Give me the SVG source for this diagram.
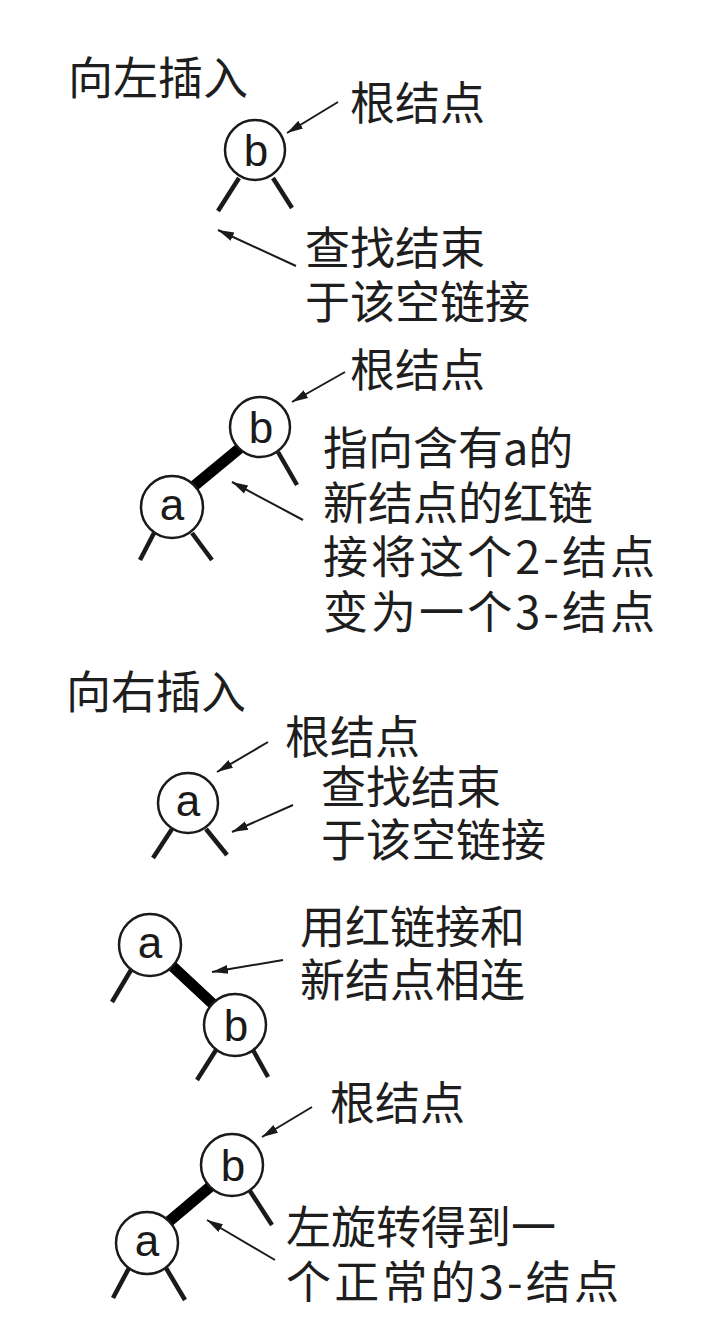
<svg xmlns="http://www.w3.org/2000/svg" width="710" height="1334" viewBox="0 0 710 1334">
<style>
.t{font-family:"Noto Sans CJK SC","Liberation Sans",sans-serif;font-size:45px;fill:#1e1e1e}
.k{font-family:"Liberation Sans","DejaVu Sans",sans-serif;font-size:44px;fill:#1a1a1a;text-anchor:middle}
.n{fill:#fff;stroke:#1a1a1a;stroke-width:2.5}
.leg{stroke:#1a1a1a;stroke-width:4.5;stroke-linecap:butt;fill:none}
.red{stroke:#000;stroke-width:11;stroke-linecap:butt;fill:none}
.ar{stroke:#1a1a1a;stroke-width:2;fill:none;marker-end:url(#ah)}
</style>
<defs>
<marker id="ah" markerWidth="17" markerHeight="12" refX="16" refY="6" orient="auto" markerUnits="userSpaceOnUse">
<path d="M0,1.5 L16,6 L0,10.5 z" fill="#1a1a1a"/>
</marker>
</defs>
<rect width="710" height="1334" fill="#fff"/>

<g id="connectors">
<line class="leg" x1="239" y1="178" x2="218" y2="211"/>
<line class="leg" x1="273" y1="178" x2="292" y2="208"/>
<line class="ar" x1="338" y1="102" x2="287" y2="133"/>
<line class="ar" x1="296" y1="266" x2="218" y2="230"/>
<line class="red" x1="240" y1="448" x2="194" y2="486"/>
<line class="leg" x1="278" y1="452" x2="297" y2="485"/>
<line class="leg" x1="154" y1="533" x2="140" y2="560"/>
<line class="leg" x1="192" y1="533" x2="212" y2="560"/>
<line class="ar" x1="345" y1="372" x2="292" y2="402"/>
<line class="ar" x1="303" y1="520" x2="232" y2="482"/>
<line class="leg" x1="172" y1="829" x2="153" y2="858"/>
<line class="leg" x1="206" y1="829" x2="227" y2="855"/>
<line class="ar" x1="268" y1="742" x2="217" y2="772"/>
<line class="ar" x1="293" y1="805" x2="232" y2="832"/>
<line class="red" x1="170" y1="964" x2="215" y2="1006"/>
<line class="leg" x1="131" y1="970" x2="112" y2="1002"/>
<line class="leg" x1="216" y1="1050" x2="197" y2="1080"/>
<line class="leg" x1="253" y1="1050" x2="268" y2="1077"/>
<line class="ar" x1="283" y1="960" x2="212" y2="972"/>
<line class="red" x1="211" y1="1186" x2="166" y2="1224"/>
<line class="leg" x1="250" y1="1191" x2="272" y2="1225"/>
<line class="leg" x1="129" y1="1268" x2="113" y2="1298"/>
<line class="leg" x1="166" y1="1268" x2="185" y2="1300"/>
<line class="ar" x1="312" y1="1107" x2="262" y2="1137"/>
<line class="ar" x1="275" y1="1260" x2="207" y2="1220"/>
</g>

<g id="node-b1"><circle class="n" cx="255" cy="150" r="30"/><text class="k" x="256" y="166">b</text></g>
<g id="node-b2"><circle class="n" cx="260" cy="427" r="30"/><text class="k" x="261" y="443">b</text></g>
<g id="node-a2"><circle class="n" cx="172" cy="507" r="31"/><text class="k" x="172" y="520">a</text></g>
<g id="node-a3"><circle class="n" cx="188" cy="803" r="30"/><text class="k" x="188" y="816">a</text></g>
<g id="node-a4"><circle class="n" cx="150" cy="945" r="31"/><text class="k" x="150" y="958">a</text></g>
<g id="node-b4"><circle class="n" cx="235" cy="1025" r="31"/><text class="k" x="236" y="1041">b</text></g>
<g id="node-b5"><circle class="n" cx="232" cy="1165" r="31"/><text class="k" x="233" y="1181">b</text></g>
<g id="node-a5"><circle class="n" cx="147" cy="1243" r="31"/><text class="k" x="147" y="1256">a</text></g>

<g id="labels">
<text class="t" x="68" y="95">向左插入</text>
<text class="t" x="350" y="120">根结点</text>
<text class="t" x="305" y="265">查找结束</text>
<text class="t" x="305" y="319">于该空链接</text>

<text class="t" x="350" y="387">根结点</text>
<text class="t" x="323" y="465">指向含有a的</text>
<text class="t" x="323" y="520">新结点的红链</text>
<text class="t" x="323" y="574" textLength="332" lengthAdjust="spacing">接将这个2-结点</text>
<text class="t" x="323" y="629" textLength="332" lengthAdjust="spacing">变为一个3-结点</text>

<text class="t" x="66" y="709">向右插入</text>
<text class="t" x="285" y="754">根结点</text>
<text class="t" x="321" y="804">查找结束</text>
<text class="t" x="321" y="857">于该空链接</text>

<text class="t" x="300" y="944">用红链接和</text>
<text class="t" x="300" y="997">新结点相连</text>

<text class="t" x="330" y="1120">根结点</text>
<text class="t" x="286" y="1244">左旋转得到一</text>
<text class="t" x="286" y="1299" textLength="333" lengthAdjust="spacing">个正常的3-结点</text>
</g>
</svg>
